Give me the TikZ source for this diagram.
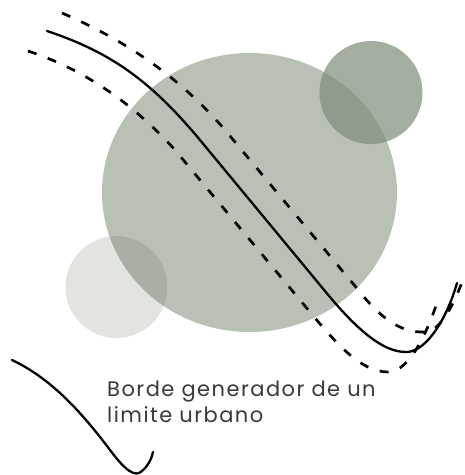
\documentclass[tikz,border=0pt]{standalone}
\usepackage{fontspec}
\setmainfont{Poppins}
\usepackage{xcolor}
\usetikzlibrary{positioning}
\definecolor{sagebig}{HTML}{B9C1B6}
\definecolor{sagedark}{HTML}{A3ADA0}
\definecolor{sagedarkover}{HTML}{919B8C}
\definecolor{sagelight}{HTML}{E1E4DF}
\definecolor{sagelightover}{HTML}{A8B0A5}
\definecolor{textgray}{HTML}{3A3A3A}
\newfontfamily\labelfont[LetterSpace=7]{Poppins}
\tikzset{
  borde/.style={line width=2.3pt, black, line cap=round},
  franja/.style={line width=2.7pt, black, dash pattern=on 9pt off 12pt},
}

\begin{document}
\begin{tikzpicture}[x=1pt, y=-1pt]
			\useasboundingbox (0,0) rectangle (465,475);
			% circles
			\fill [sagebig] (249.5,192.5) ellipse [x radius=147.5, y radius=139.5];
			\fill [sagedark] (371,92.5) circle [radius=51.5];
			\fill [sagelight] (116.5,287) circle [radius=51];
			\begin{scope}
				\clip (249.5,192.5) ellipse [x radius=147.5, y radius=139.5];
				\fill [sagedarkover] (371,92.5) circle [radius=51.5];
				\fill [sagelightover] (116.5,287) circle [radius=51];
			\end{scope}
			% main border with its two bands
			\draw [borde] (47,31) .. controls (110,52) and (150,80) .. (200,140)
				-- (320,285) .. controls (350,322) and (380,353) .. (407,352)
				.. controls (428,351) and (448,315) .. (457,283);
			\draw [franja] (62,13) .. controls (120,38) and (180,75) .. (230,136)
				-- (355,286) .. controls (380,318) and (400,333) .. (425,332)
				.. controls (442,331) and (455,300) .. (463,280);
			\draw [franja] (28,51) .. controls (80,68) and (130,100) .. (175,150)
				-- (305,306) .. controls (335,342) and (360,372) .. (388,372)
				.. controls (410,372) and (428,330) .. (438,300);
			% small border
			\draw [borde] (12,360) .. controls (50,378) and (80,410) .. (110,450)
				.. controls (125,470) and (135,478) .. (142,471)
				.. controls (148,466) and (152,458) .. (153,452);
			\node (lbl) [anchor=north west, align=left, inner sep=0pt, text=textgray,
				font=\labelfont\fontsize{21}{26}\selectfont] at (107,381)
				{Borde generador de un\\limite urbano};
		\end{tikzpicture}
\end{document}
